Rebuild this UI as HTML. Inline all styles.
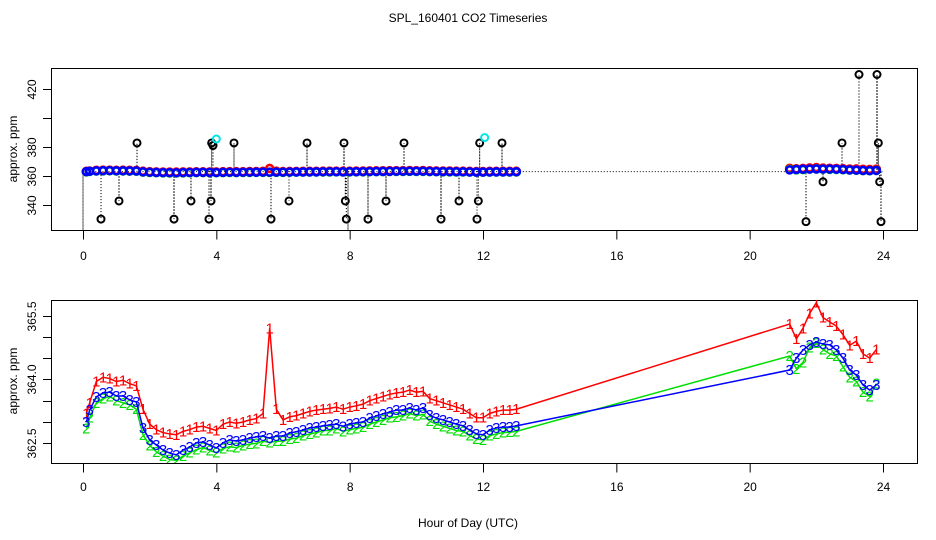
<!DOCTYPE html>
<html><head><meta charset="utf-8"><style>
html,body{margin:0;padding:0;background:#fff;}
svg{display:block;font-family:"Liberation Sans",Arial,sans-serif;}
</style></head><body>
<svg id="chart" width="936" height="540" viewBox="0 0 936 540" xmlns="http://www.w3.org/2000/svg">
<defs>
<clipPath id="clipTop"><rect x="51" y="68" width="866" height="163"/></clipPath>
<clipPath id="clipBot"><rect x="51" y="300" width="866" height="163"/></clipPath>
</defs>
<text x="468" y="22" text-anchor="middle" font-size="12">SPL_160401  CO2 Timeseries</text>
<rect x="51.5" y="68.5" width="866" height="162" fill="none" stroke="#000"/>
<rect x="51.5" y="300.5" width="866" height="163" fill="none" stroke="#000"/>
<text transform="translate(17,149) rotate(-90)" text-anchor="middle" font-size="12">approx. ppm</text>
<text transform="translate(17,381) rotate(-90)" text-anchor="middle" font-size="12">approx. ppm</text>
<text x="468" y="527" text-anchor="middle" font-size="12">Hour of Day (UTC)</text>
<g id="topAxes"></g><g id="botAxes"></g>
<g id="topPlot" clip-path="url(#clipTop)"></g>
<g id="botPlot" clip-path="url(#clipBot)"></g>
</svg>
<script>
const xTicks=[0,4,8,12,16,20,24];
const topYTicks=[340,360,380,400,420];
const topYLabels=["340","360","380","","420"];
const botYTicks=[362.5,363.0,363.5,364.0,364.5,365.0,365.5];
const botYLabels=["362.5","","","364.0","","","365.5"];

const times=[0.1,0.2,0.4,0.6,0.8,1.0,1.2,1.4,1.6,1.8,2.0,2.2,2.4,2.6,2.8,3.0,3.2,3.4,3.6,3.8,
4.0,4.2,4.4,4.6,4.8,5.0,5.2,5.4,5.6,5.8,6.0,6.2,6.4,6.6,6.8,7.0,7.2,7.4,7.6,7.8,
8.0,8.2,8.4,8.6,8.8,9.0,9.2,9.4,9.6,9.8,10.0,10.2,10.4,10.6,10.8,11.0,11.2,11.4,11.6,11.8,
12.0,12.2,12.4,12.6,12.8,13.0,
21.2,21.4,21.6,21.8,22.0,22.2,22.4,22.6,22.8,23.0,23.2,23.4,23.6,23.8];
const series3=[363.0,363.28,363.59,363.68,363.70,363.61,363.61,363.52,363.47,362.86,362.58,362.46,362.34,362.27,362.23,362.34,362.41,362.51,362.53,362.46,
362.39,362.51,362.58,362.55,362.58,362.62,362.65,362.67,362.62,362.67,362.67,362.74,362.77,362.81,362.86,362.88,362.91,362.93,362.95,362.90,
362.95,362.98,363.0,363.09,363.14,363.19,363.23,363.28,363.28,363.33,363.28,363.33,363.16,363.09,363.05,363.0,362.95,362.91,362.81,362.72,
362.70,362.81,362.86,362.88,362.88,362.91,
364.22,364.50,364.69,364.81,364.88,364.83,364.81,364.69,364.50,364.22,364.10,363.87,363.75,363.87];
const series2=[362.85,363.1,363.45,363.55,363.6,363.5,363.45,363.4,363.3,362.7,362.45,362.3,362.2,362.12,362.1,362.2,362.28,362.35,362.4,362.33,
362.28,362.38,362.42,362.4,362.45,362.48,362.5,362.55,362.52,362.55,362.55,362.6,362.62,362.68,362.72,362.75,362.8,362.8,362.85,362.78,
362.82,362.85,362.88,362.95,363.0,363.05,363.1,363.12,363.15,363.2,363.15,363.18,363.02,362.95,362.9,362.85,362.8,362.78,362.68,362.6,
362.58,362.68,362.72,362.75,362.76,362.78,
364.55,364.25,364.4,364.75,364.85,364.7,364.6,364.55,364.3,364.05,363.95,363.7,363.6,363.9];
const series1=[363.2,363.45,363.95,364.05,364.02,363.95,363.98,363.9,363.85,363.3,362.95,362.82,362.75,362.72,362.7,362.78,362.82,362.88,362.9,362.85,
362.8,362.95,363.0,362.97,363.0,363.05,363.08,363.2,365.2,363.3,363.05,363.12,363.15,363.2,363.25,363.28,363.3,363.32,363.35,363.3,
363.35,363.38,363.42,363.5,363.55,363.6,363.65,363.68,363.7,363.75,363.7,363.72,363.55,363.5,363.45,363.4,363.35,363.3,363.2,363.1,
363.1,363.2,363.25,363.28,363.28,363.3,
365.3,364.95,365.2,365.55,365.8,365.45,365.35,365.25,365.05,364.8,364.9,364.6,364.5,364.7];
const outlierTimes=[0.0,0.54,1.08,1.62,2.73,3.24,3.78,3.84,3.86,3.9,4.53,5.64,6.18,6.72,7.83,7.87,7.9,7.95,8.55,9.09,9.63,10.74,11.28,11.82,11.86,11.9,12.57,21.69,22.2,22.77,23.28,23.82,23.86,23.9,23.94];
const outlierValues=[300,330.3,342.8,382.8,330.3,342.8,330.3,342.8,382.8,381,382.8,330.3,342.8,382.8,382.8,342.8,330.3,300,330.3,342.8,382.8,330.3,342.8,330.3,342.8,382.8,382.8,328.5,356,382.8,430,430,382.8,356,328.5];
const cyanTimes=[4.0,12.05];
const cyanValues=[385.5,386.5];

const NS="http://www.w3.org/2000/svg";
const xs=t=>83+t*(800/24);
const yTop=v=>176-(v-360)*1.45;
const yBot=v=>443.3-(v-362.5)*42.6;
function mk(tag,attrs,parent){const e=document.createElementNS(NS,tag);for(const k in attrs)e.setAttribute(k,attrs[k]);parent.appendChild(e);return e;}
const topAxes=document.getElementById('topAxes'),botAxes=document.getElementById('botAxes');
const topPlot=document.getElementById('topPlot'),botPlot=document.getElementById('botPlot');

[[topAxes,230.5,256],[botAxes,463.5,487]].forEach(([g,y0,ly])=>{
  mk('line',{x1:xs(0),x2:xs(24),y1:y0,y2:y0,stroke:'#000'},g);
  xTicks.forEach(t=>{
    const l=mk('line',{x1:xs(t)+0.5,x2:xs(t)+0.5,y1:y0,y2:y0+9,stroke:'#000'},g);
    
    
    const tx=mk('text',{x:xs(t)+0.5,y:ly+4,'text-anchor':'middle','font-size':12},g);
    tx.textContent=String(t);
    
    
  });
});
topYTicks.forEach((v,i)=>{
  const y=Math.round(yTop(v))+0.5;
  mk('line',{x1:43,x2:51,y1:y,y2:y,stroke:'#000'},topAxes);
  if(topYLabels[i]){const tx=mk('text',{transform:`translate(36,${y}) rotate(-90)`,'text-anchor':'middle','font-size':12},topAxes);
  tx.textContent=topYLabels[i];
  
  }
});
mk('line',{x1:51.5,x2:51.5,y1:yTop(340),y2:yTop(420),stroke:'#000'},topAxes);
botYTicks.forEach((v,i)=>{
  const y=Math.round(yBot(v))+0.5;
  mk('line',{x1:43,x2:51,y1:y,y2:y,stroke:'#000'},botAxes);
  if(botYLabels[i]){const tx=mk('text',{transform:`translate(36,${y}) rotate(-90)`,'text-anchor':'middle','font-size':12},botAxes);
  tx.textContent=botYLabels[i];
  
  }
});

// top: black dotted series through outliers
const base=363;
let d=`M${xs(0)},${yTop(base)}`;
outlierTimes.forEach((t,i)=>{d+=` L${xs(t)},${yTop(base)} L${xs(t)},${yTop(outlierValues[i])} L${xs(t)},${yTop(base)}`;});
d+=` L${xs(24)},${yTop(base)}`;
const bl=mk('path',{d:d,fill:'none',stroke:'#000','stroke-dasharray':'1,2'},topPlot);


outlierTimes.forEach((t,i)=>{
  const c=mk('circle',{cx:xs(t),cy:yTop(outlierValues[i]),r:3.5,fill:'none',stroke:'#000','stroke-width':2},topPlot);
  
  
});
cyanTimes.forEach((t,i)=>{
  const c=mk('circle',{cx:xs(t),cy:yTop(cyanValues[i]),r:3.5,fill:'none',stroke:'#00e5e5','stroke-width':2},topPlot);
  
  
});
[[series1,'#ff0000'],[series2,'#00dd00'],[series3,'#0000ff']].forEach(([s,col])=>{
  times.forEach((t,i)=>{
    const c=mk('circle',{cx:xs(t),cy:yTop(s[i]),r:3.5,fill:'none',stroke:col,'stroke-width':2.6},topPlot);
    
    
  });
});

// bottom
[[series1,'#ff0000','1','series-1'],[series2,'#00dd00','2','series-2'],[series3,'#0000ff','3','series-3']].forEach(([s,col,ch,nm])=>{
  const pts=times.map((t,i)=>`${xs(t)},${yBot(s[i])}`).join(' ');
  const pl=mk('polyline',{points:pts,fill:'none',stroke:col,'stroke-width':1.5},botPlot);
  
  
  times.forEach((t,i)=>{
    const tx=mk('text',{x:xs(t),y:yBot(s[i])+5,'text-anchor':'middle','font-size':15,fill:col},botPlot);
    tx.textContent=ch;
    
    
  });
});
</script>
</body></html>
